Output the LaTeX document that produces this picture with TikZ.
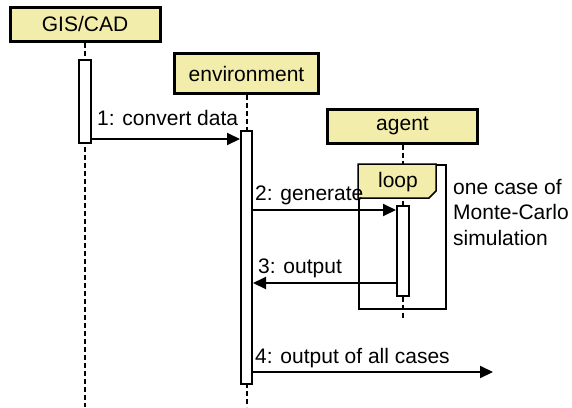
\documentclass[tikz,border=0pt]{standalone}
\usepackage{fontspec}
\setmainfont{Liberation Sans}
\usetikzlibrary{arrows.meta}
\definecolor{hdr}{RGB}{242,237,170}
\begin{document}
\begin{tikzpicture}[x=1pt,y=-1pt,
  lbl/.style={font=\fontsize{21}{25.5}\selectfont, inner sep=0pt},
  head/.style={draw, line width=3pt, fill=hdr, inner sep=0pt, minimum height=34pt, font=\fontsize{21}{25}\selectfont},
  act/.style={draw, line width=2pt, fill=white, inner sep=0pt, minimum width=12pt},
  life/.style={line width=2pt, dash pattern=on 5pt off 3pt},
  msg/.style={line width=2pt, -{Triangle[length=13pt,width=12pt]}},
  frame/.style={draw, line width=2pt, inner sep=0pt}
]
\useasboundingbox (0,0) rectangle (572,407);

% headers
\node[head, minimum width=150pt] (gis) at (85,24) {GIS/CAD};
\node[head, minimum width=144pt, minimum height=40pt] (env) at (246.5,73.5) {environment};
\node[head, minimum width=150pt] (agent) at (402.5,126) {agent};

% lifelines
\coordinate (gisend) at (85,407);
\coordinate (envend) at (246.5,407);
\coordinate (agentend) at (402.5,319);
\draw[life] (gis.south) -- (gisend);
\draw[life] (env.south) -- (envend);
\draw[life] (agent.south) -- (agentend);

% loop frame
\node[frame, minimum width=87pt, minimum height=144pt] (loopframe) at (402.5,237) {};
\draw[line width=1.5pt, fill=hdr] (loopframe.north west) -- ++(78,0) -- ++(0,27) -- ++(-7,7) -- ++(-71,0) -- cycle;
\node[lbl] (looplbl) at (398,182) {loop};

% activations
\node[act, minimum height=83pt] (gisact) at (85,101.5) {};
\node[act, minimum width=11pt, minimum height=253pt] (envact) at (246.5,257.5) {};
\node[act, minimum height=90pt] (agentact) at (403,251) {};

% messages
\coordinate (m1) at (0,139);
\coordinate (m2) at (0,210);
\coordinate (m3) at (0,283);
\coordinate (m4) at (0,372);
\coordinate (out4) at (493,372);
\draw[msg] (gisact.east |- m1) -- (envact.west |- m1);
\draw[msg] (envact.east |- m2) -- (agentact.west |- m2);
\draw[msg] (agentact.west |- m3) -- (envact.east |- m3);
\draw[msg] (envact.east |- m4) -- (out4);

% labels
\node[lbl, anchor=base west] (l1) at (97,125) {1: convert data};
\node[lbl, anchor=base west] (l2) at (255,200) {2: generate};
\node[lbl, anchor=base west] (l3) at (258,273) {3: output};
\node[lbl, anchor=base west] (l4) at (255,363) {4: output of all cases};
\node[lbl, anchor=base west, align=left] (note) at (453,245) {one case of\\Monte-Carlo\\simulation};
\end{tikzpicture}
\end{document}
